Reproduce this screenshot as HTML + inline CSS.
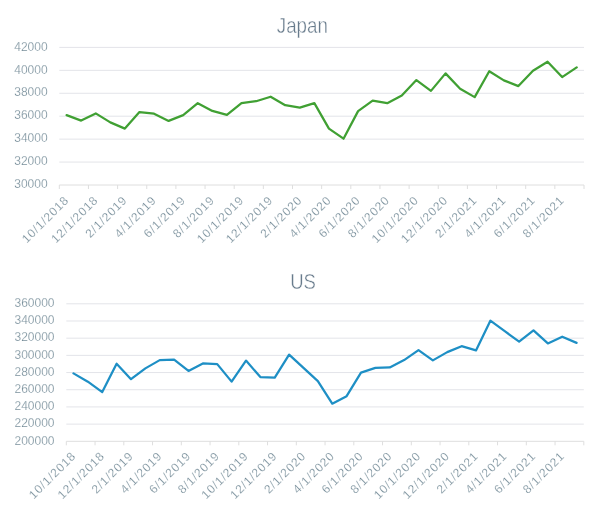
<!DOCTYPE html>
<html><head><meta charset="utf-8"><style>
html,body{margin:0;padding:0;background:#fff;}
body{width:600px;height:523px;overflow:hidden;}
svg{display:block;will-change:transform;}
text{font-family:"Liberation Sans",sans-serif;fill:#8c9aa5;}
.t{font-size:21.6px;fill:#687b8c;stroke:#fff;stroke-width:0.4px;}
.y{font-size:12px;fill:#6b8491;stroke:#fff;stroke-width:0.25px;}
.x{font-size:12px;letter-spacing:0.8px;fill:#67808e;stroke:#fff;stroke-width:0.25px;}
</style></head><body>
<svg width="600" height="523" viewBox="0 0 600 523">
<rect width="600" height="523" fill="#fff"/>
<text class="t" text-anchor="middle" transform="translate(302.3,32.8) scale(0.868,1)">Japan</text>
<line x1="59.3" x2="584" y1="47.40" y2="47.40" stroke="#e3e4e9" stroke-width="1"/>
<line x1="59.3" x2="584" y1="70.33" y2="70.33" stroke="#e3e4e9" stroke-width="1"/>
<line x1="59.3" x2="584" y1="93.27" y2="93.27" stroke="#e3e4e9" stroke-width="1"/>
<line x1="59.3" x2="584" y1="116.20" y2="116.20" stroke="#e3e4e9" stroke-width="1"/>
<line x1="59.3" x2="584" y1="139.13" y2="139.13" stroke="#e3e4e9" stroke-width="1"/>
<line x1="59.3" x2="584" y1="162.07" y2="162.07" stroke="#e3e4e9" stroke-width="1"/>
<line x1="59.3" x2="584" y1="185.00" y2="185.00" stroke="#dedede" stroke-width="1"/>
<line x1="59.30" x2="59.30" y1="185.00" y2="189.00" stroke="#dedede" stroke-width="1"/>
<line x1="88.45" x2="88.45" y1="185.00" y2="189.00" stroke="#dedede" stroke-width="1"/>
<line x1="117.60" x2="117.60" y1="185.00" y2="189.00" stroke="#dedede" stroke-width="1"/>
<line x1="146.75" x2="146.75" y1="185.00" y2="189.00" stroke="#dedede" stroke-width="1"/>
<line x1="175.90" x2="175.90" y1="185.00" y2="189.00" stroke="#dedede" stroke-width="1"/>
<line x1="205.05" x2="205.05" y1="185.00" y2="189.00" stroke="#dedede" stroke-width="1"/>
<line x1="234.20" x2="234.20" y1="185.00" y2="189.00" stroke="#dedede" stroke-width="1"/>
<line x1="263.35" x2="263.35" y1="185.00" y2="189.00" stroke="#dedede" stroke-width="1"/>
<line x1="292.50" x2="292.50" y1="185.00" y2="189.00" stroke="#dedede" stroke-width="1"/>
<line x1="321.65" x2="321.65" y1="185.00" y2="189.00" stroke="#dedede" stroke-width="1"/>
<line x1="350.80" x2="350.80" y1="185.00" y2="189.00" stroke="#dedede" stroke-width="1"/>
<line x1="379.95" x2="379.95" y1="185.00" y2="189.00" stroke="#dedede" stroke-width="1"/>
<line x1="409.10" x2="409.10" y1="185.00" y2="189.00" stroke="#dedede" stroke-width="1"/>
<line x1="438.25" x2="438.25" y1="185.00" y2="189.00" stroke="#dedede" stroke-width="1"/>
<line x1="467.40" x2="467.40" y1="185.00" y2="189.00" stroke="#dedede" stroke-width="1"/>
<line x1="496.55" x2="496.55" y1="185.00" y2="189.00" stroke="#dedede" stroke-width="1"/>
<line x1="525.70" x2="525.70" y1="185.00" y2="189.00" stroke="#dedede" stroke-width="1"/>
<line x1="554.85" x2="554.85" y1="185.00" y2="189.00" stroke="#dedede" stroke-width="1"/>
<line x1="584.00" x2="584.00" y1="185.00" y2="189.00" stroke="#dedede" stroke-width="1"/>
<text x="47.6" y="50.60" class="y" text-anchor="end">42000</text>
<text x="47.6" y="73.53" class="y" text-anchor="end">40000</text>
<text x="47.6" y="96.47" class="y" text-anchor="end">38000</text>
<text x="47.6" y="119.40" class="y" text-anchor="end">36000</text>
<text x="47.6" y="142.33" class="y" text-anchor="end">34000</text>
<text x="47.6" y="165.27" class="y" text-anchor="end">32000</text>
<text x="47.6" y="188.20" class="y" text-anchor="end">30000</text>
<text class="x" text-anchor="end" transform="translate(69.59,201) rotate(-45)">10/1/2018</text>
<text class="x" text-anchor="end" transform="translate(98.74,201) rotate(-45)">12/1/2018</text>
<text class="x" text-anchor="end" transform="translate(127.89,201) rotate(-45)">2/1/2019</text>
<text class="x" text-anchor="end" transform="translate(157.04,201) rotate(-45)">4/1/2019</text>
<text class="x" text-anchor="end" transform="translate(186.19,201) rotate(-45)">6/1/2019</text>
<text class="x" text-anchor="end" transform="translate(215.34,201) rotate(-45)">8/1/2019</text>
<text class="x" text-anchor="end" transform="translate(244.49,201) rotate(-45)">10/1/2019</text>
<text class="x" text-anchor="end" transform="translate(273.64,201) rotate(-45)">12/1/2019</text>
<text class="x" text-anchor="end" transform="translate(302.79,201) rotate(-45)">2/1/2020</text>
<text class="x" text-anchor="end" transform="translate(331.94,201) rotate(-45)">4/1/2020</text>
<text class="x" text-anchor="end" transform="translate(361.09,201) rotate(-45)">6/1/2020</text>
<text class="x" text-anchor="end" transform="translate(390.24,201) rotate(-45)">8/1/2020</text>
<text class="x" text-anchor="end" transform="translate(419.39,201) rotate(-45)">10/1/2020</text>
<text class="x" text-anchor="end" transform="translate(448.54,201) rotate(-45)">12/1/2020</text>
<text class="x" text-anchor="end" transform="translate(477.69,201) rotate(-45)">2/1/2021</text>
<text class="x" text-anchor="end" transform="translate(506.84,201) rotate(-45)">4/1/2021</text>
<text class="x" text-anchor="end" transform="translate(535.99,201) rotate(-45)">6/1/2021</text>
<text class="x" text-anchor="end" transform="translate(565.14,201) rotate(-45)">8/1/2021</text>
<polyline points="66.59,115.10 81.16,120.60 95.74,113.40 110.31,122.40 124.89,128.60 139.46,112.10 154.04,113.70 168.61,120.90 183.19,115.10 197.76,103.20 212.34,110.90 226.91,114.90 241.49,103.20 256.06,101.20 270.64,96.70 285.21,105.20 299.79,107.60 314.36,103.10 328.94,128.60 343.51,138.70 358.09,111.10 372.66,100.70 387.24,103.20 401.81,95.60 416.39,80.10 430.96,90.90 445.54,73.40 460.11,88.70 474.69,97.10 489.26,71.20 503.84,80.40 518.41,86.10 532.99,70.70 547.56,61.70 562.14,77.10 576.71,67.40" fill="none" stroke="#40a033" stroke-width="2.25" stroke-linejoin="round" stroke-linecap="round"/>
<text class="t" text-anchor="middle" transform="translate(303.1,288.8) scale(0.858,1)">US</text>
<line x1="66.3" x2="583.8" y1="303.80" y2="303.80" stroke="#e3e4e9" stroke-width="1"/>
<line x1="66.3" x2="583.8" y1="320.99" y2="320.99" stroke="#e3e4e9" stroke-width="1"/>
<line x1="66.3" x2="583.8" y1="338.18" y2="338.18" stroke="#e3e4e9" stroke-width="1"/>
<line x1="66.3" x2="583.8" y1="355.36" y2="355.36" stroke="#e3e4e9" stroke-width="1"/>
<line x1="66.3" x2="583.8" y1="372.55" y2="372.55" stroke="#e3e4e9" stroke-width="1"/>
<line x1="66.3" x2="583.8" y1="389.74" y2="389.74" stroke="#e3e4e9" stroke-width="1"/>
<line x1="66.3" x2="583.8" y1="406.93" y2="406.93" stroke="#e3e4e9" stroke-width="1"/>
<line x1="66.3" x2="583.8" y1="424.11" y2="424.11" stroke="#e3e4e9" stroke-width="1"/>
<line x1="66.3" x2="583.8" y1="441.30" y2="441.30" stroke="#dedede" stroke-width="1"/>
<line x1="66.30" x2="66.30" y1="441.30" y2="445.30" stroke="#dedede" stroke-width="1"/>
<line x1="95.05" x2="95.05" y1="441.30" y2="445.30" stroke="#dedede" stroke-width="1"/>
<line x1="123.80" x2="123.80" y1="441.30" y2="445.30" stroke="#dedede" stroke-width="1"/>
<line x1="152.55" x2="152.55" y1="441.30" y2="445.30" stroke="#dedede" stroke-width="1"/>
<line x1="181.30" x2="181.30" y1="441.30" y2="445.30" stroke="#dedede" stroke-width="1"/>
<line x1="210.05" x2="210.05" y1="441.30" y2="445.30" stroke="#dedede" stroke-width="1"/>
<line x1="238.80" x2="238.80" y1="441.30" y2="445.30" stroke="#dedede" stroke-width="1"/>
<line x1="267.55" x2="267.55" y1="441.30" y2="445.30" stroke="#dedede" stroke-width="1"/>
<line x1="296.30" x2="296.30" y1="441.30" y2="445.30" stroke="#dedede" stroke-width="1"/>
<line x1="325.05" x2="325.05" y1="441.30" y2="445.30" stroke="#dedede" stroke-width="1"/>
<line x1="353.80" x2="353.80" y1="441.30" y2="445.30" stroke="#dedede" stroke-width="1"/>
<line x1="382.55" x2="382.55" y1="441.30" y2="445.30" stroke="#dedede" stroke-width="1"/>
<line x1="411.30" x2="411.30" y1="441.30" y2="445.30" stroke="#dedede" stroke-width="1"/>
<line x1="440.05" x2="440.05" y1="441.30" y2="445.30" stroke="#dedede" stroke-width="1"/>
<line x1="468.80" x2="468.80" y1="441.30" y2="445.30" stroke="#dedede" stroke-width="1"/>
<line x1="497.55" x2="497.55" y1="441.30" y2="445.30" stroke="#dedede" stroke-width="1"/>
<line x1="526.30" x2="526.30" y1="441.30" y2="445.30" stroke="#dedede" stroke-width="1"/>
<line x1="555.05" x2="555.05" y1="441.30" y2="445.30" stroke="#dedede" stroke-width="1"/>
<line x1="583.80" x2="583.80" y1="441.30" y2="445.30" stroke="#dedede" stroke-width="1"/>
<text x="54.5" y="307.00" class="y" text-anchor="end">360000</text>
<text x="54.5" y="324.19" class="y" text-anchor="end">340000</text>
<text x="54.5" y="341.38" class="y" text-anchor="end">320000</text>
<text x="54.5" y="358.56" class="y" text-anchor="end">300000</text>
<text x="54.5" y="375.75" class="y" text-anchor="end">280000</text>
<text x="54.5" y="392.94" class="y" text-anchor="end">260000</text>
<text x="54.5" y="410.12" class="y" text-anchor="end">240000</text>
<text x="54.5" y="427.31" class="y" text-anchor="end">220000</text>
<text x="54.5" y="444.50" class="y" text-anchor="end">200000</text>
<text class="x" text-anchor="end" transform="translate(76.49,456.8) rotate(-45)">10/1/2018</text>
<text class="x" text-anchor="end" transform="translate(105.24,456.8) rotate(-45)">12/1/2018</text>
<text class="x" text-anchor="end" transform="translate(133.99,456.8) rotate(-45)">2/1/2019</text>
<text class="x" text-anchor="end" transform="translate(162.74,456.8) rotate(-45)">4/1/2019</text>
<text class="x" text-anchor="end" transform="translate(191.49,456.8) rotate(-45)">6/1/2019</text>
<text class="x" text-anchor="end" transform="translate(220.24,456.8) rotate(-45)">8/1/2019</text>
<text class="x" text-anchor="end" transform="translate(248.99,456.8) rotate(-45)">10/1/2019</text>
<text class="x" text-anchor="end" transform="translate(277.74,456.8) rotate(-45)">12/1/2019</text>
<text class="x" text-anchor="end" transform="translate(306.49,456.8) rotate(-45)">2/1/2020</text>
<text class="x" text-anchor="end" transform="translate(335.24,456.8) rotate(-45)">4/1/2020</text>
<text class="x" text-anchor="end" transform="translate(363.99,456.8) rotate(-45)">6/1/2020</text>
<text class="x" text-anchor="end" transform="translate(392.74,456.8) rotate(-45)">8/1/2020</text>
<text class="x" text-anchor="end" transform="translate(421.49,456.8) rotate(-45)">10/1/2020</text>
<text class="x" text-anchor="end" transform="translate(450.24,456.8) rotate(-45)">12/1/2020</text>
<text class="x" text-anchor="end" transform="translate(478.99,456.8) rotate(-45)">2/1/2021</text>
<text class="x" text-anchor="end" transform="translate(507.74,456.8) rotate(-45)">4/1/2021</text>
<text class="x" text-anchor="end" transform="translate(536.49,456.8) rotate(-45)">6/1/2021</text>
<text class="x" text-anchor="end" transform="translate(565.24,456.8) rotate(-45)">8/1/2021</text>
<polyline points="73.49,373.40 87.86,381.70 102.24,392.10 116.61,363.70 130.99,379.20 145.36,368.40 159.74,360.10 174.11,359.60 188.49,370.90 202.86,363.40 217.24,364.10 231.61,381.60 245.99,360.60 260.36,377.10 274.74,377.60 289.11,354.60 303.49,367.90 317.86,381.10 332.24,403.70 346.61,396.20 360.99,372.60 375.36,367.90 389.74,367.40 404.11,360.10 418.49,350.10 432.86,360.40 447.24,352.10 461.61,346.20 475.99,350.40 490.36,320.70 504.74,331.20 519.11,341.60 533.49,330.40 547.86,343.40 562.24,336.70 576.61,342.90" fill="none" stroke="#1e8fc5" stroke-width="2.25" stroke-linejoin="round" stroke-linecap="round"/>
</svg>
</body></html>
